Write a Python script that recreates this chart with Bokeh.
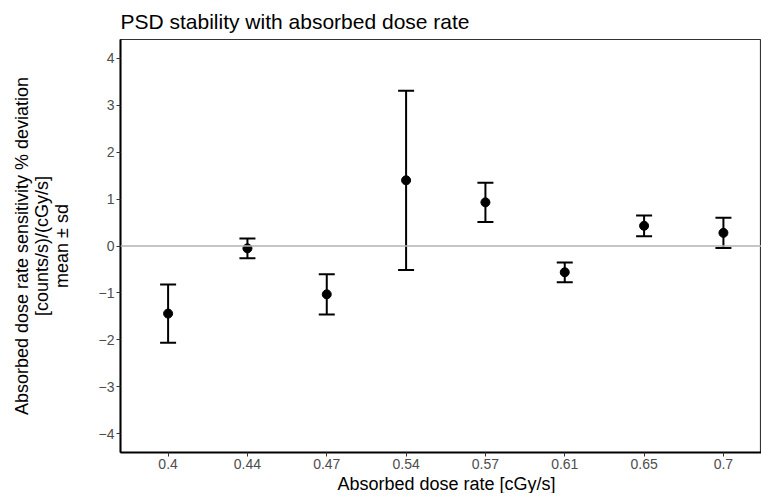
from bokeh.plotting import figure
from bokeh.models import Range1d, FixedTicker, Whisker, TeeHead, ColumnDataSource, Span, Title
from bokeh.embed import file_html
from bokeh.resources import INLINE

dose_rates = ["0.4", "0.44", "0.47", "0.54", "0.57", "0.61", "0.65", "0.7"]
means = [-1.44, -0.05, -1.03, 1.40, 0.93, -0.56, 0.43, 0.28]
sds = [0.62, 0.21, 0.43, 1.91, 0.42, 0.21, 0.22, 0.32]
y_ticks = [-4, -3, -2, -1, 0, 1, 2, 3, 4]

positions = list(range(1, len(dose_rates) + 1))
src = ColumnDataSource(dict(
    x=positions,
    mean=means,
    upper=[m + s for m, s in zip(means, sds)],
    lower=[m - s for m, s in zip(means, sds)],
))

FONT = "Liberation Sans"

p = figure(
    frame_width=641, frame_height=413,
    x_range=Range1d(0.4, 8.48), y_range=Range1d(-4.4, 4.4),
    output_backend="svg", toolbar_location=None,
    min_border_left=120, min_border_right=0, min_border_top=0, min_border_bottom=0,
    background_fill_color="white", border_fill_color="white",
)
p.title.text = "PSD stability with absorbed dose rate"
p.title.text_font = FONT
p.title.text_font_size = "21px"
p.title.text_font_style = "normal"
p.title.text_color = "#000000"
p.title.align = "left"
p.title.standoff = 14

p.xgrid.visible = False
p.ygrid.visible = False
p.outline_line_color = "#333333"
p.outline_line_width = 1.2

p.add_layout(Span(location=0, dimension="width", line_color="#b3b3b3", line_width=1.5))

p.add_layout(Whisker(
    source=src, base="x", upper="upper", lower="lower",
    line_color="black", line_width=2,
    upper_head=TeeHead(size=16, line_width=2, line_color="black"),
    lower_head=TeeHead(size=16, line_width=2, line_color="black"),
))
p.scatter("x", "mean", source=src, size=9, color="black")

# axes
for ax in (p.xaxis[0], p.yaxis[0]):
    ax.axis_line_color = "black"
    ax.axis_line_width = 2
    ax.major_tick_line_color = "#333333"
    ax.major_tick_line_width = 1
    ax.major_tick_out = 4
    ax.major_tick_in = 0
    ax.minor_tick_line_color = None
    ax.major_label_text_font = FONT
    ax.major_label_text_font_size = "14px"
    ax.major_label_text_color = "#4d4d4d"
    ax.major_label_standoff = 2

p.xaxis.ticker = FixedTicker(ticks=positions)
p.xaxis.major_label_overrides = {pos: lab for pos, lab in zip(positions, dose_rates)}

p.yaxis.ticker = FixedTicker(ticks=y_ticks)
p.yaxis.major_label_overrides = {t: str(t).replace("-", "\u2212") for t in y_ticks}
p.yaxis.axis_label = "Absorbed dose rate sensitivity % deviation\n[counts/s)/(cGy/s]\nmean \u00b1 sd"
p.yaxis.axis_label_text_font = FONT
p.yaxis.axis_label_text_font_size = "18px"
p.yaxis.axis_label_text_font_style = "normal"
p.yaxis.axis_label_text_color = "black"
p.yaxis.axis_label_text_line_height = 1.0
p.yaxis.axis_label_standoff = 24

p.add_layout(Title(text="Absorbed dose rate [cGy/s]", align="left", offset=217,
                   text_font=FONT, text_font_size="18px", text_font_style="normal",
                   text_color="black", standoff=0), "below")

open("out.html", "w").write(file_html(p, INLINE))
